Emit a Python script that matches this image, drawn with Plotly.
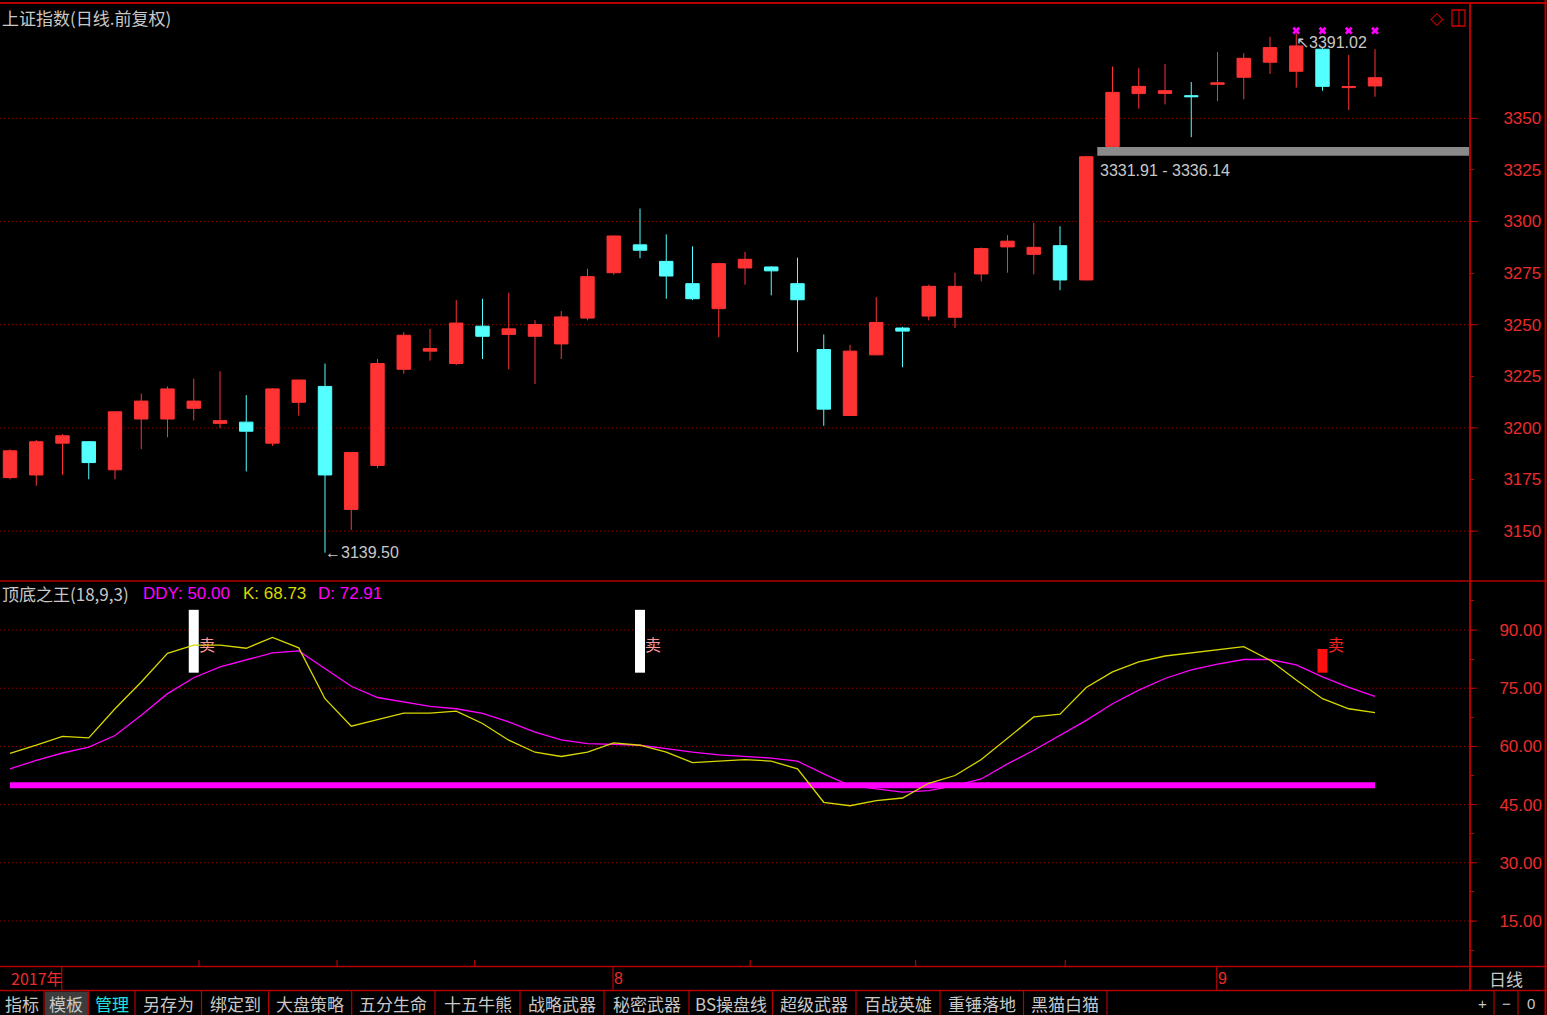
import plotly.graph_objects as go

# ---------------- data ----------------
N = 53
idx = list(range(N))
opens = [3175.9, 3177.2, 3192.6, 3193.3, 3179.7, 3204.3, 3204.3, 3209.5, 3202.2, 3202.8,
         3192.6, 3212.4, 3220.1, 3160.5, 3181.8, 3228.4, 3237.2, 3231.2, 3249.3, 3245.3,
         3244.4, 3240.7, 3253.2, 3275.2, 3288.7, 3280.7, 3269.9, 3257.8, 3277.5, 3278.0,
         3269.9, 3238.0, 3206.0, 3235.4, 3248.4, 3254.2, 3253.6, 3274.6, 3287.7, 3284.1,
         3288.3, 3271.7, 3336.4, 3362.0, 3362.1, 3361.0, 3366.5, 3369.9, 3377.2, 3372.8,
         3383.5, 3364.9, 3365.7]
highs = [3189.7, 3194.2, 3197.0, 3193.6, 3208.0, 3216.6, 3220.1, 3223.9, 3227.4, 3215.9,
         3219.3, 3223.4, 3231.2, 3188.3, 3233.4, 3246.4, 3248.0, 3261.9, 3262.6, 3265.5,
         3252.2, 3256.6, 3277.2, 3293.2, 3306.3, 3293.8, 3288.0, 3280.1, 3285.3, 3278.3,
         3282.5, 3245.3, 3240.3, 3263.4, 3248.9, 3269.4, 3275.2, 3287.4, 3293.4, 3299.4,
         3297.7, 3331.91, 3375.1, 3374.3, 3376.4, 3367.6, 3382.2, 3381.6, 3389.5, 3391.02,
         3384.0, 3380.7, 3383.5]
lows = [3175.1, 3172.0, 3177.2, 3175.1, 3175.1, 3189.7, 3195.5, 3203.6, 3199.9, 3178.9,
        3191.3, 3205.9, 3139.50, 3150.5, 3180.5, 3226.3, 3232.6, 3230.5, 3233.4, 3228.4,
        3221.3, 3233.4, 3252.1, 3274.2, 3282.2, 3262.6, 3261.9, 3244.0, 3269.4, 3264.2,
        3236.7, 3201.0, 3205.8, 3235.2, 3229.4, 3252.1, 3248.5, 3271.0, 3275.2, 3274.4,
        3266.7, 3271.5, 3336.14, 3354.7, 3356.8, 3340.9, 3358.4, 3359.2, 3371.5, 3364.9,
        3363.4, 3354.0, 3360.5]
closes = [3188.9, 3193.3, 3196.2, 3183.2, 3207.8, 3213.0, 3218.9, 3213.0, 3203.5, 3198.4,
          3218.9, 3223.2, 3177.2, 3188.1, 3231.2, 3244.9, 3238.5, 3250.8, 3244.4, 3248.0,
          3250.1, 3253.8, 3273.3, 3293.0, 3286.1, 3273.6, 3262.6, 3279.6, 3281.7, 3276.1,
          3262.1, 3209.1, 3237.2, 3251.1, 3246.9, 3268.6, 3268.6, 3286.9, 3290.5, 3287.5,
          3271.7, 3331.4, 3362.6, 3365.5, 3363.4, 3360.5, 3367.2, 3379.1, 3384.3, 3385.1,
          3365.5, 3365.4, 3369.7]

K = [58.2, 60.3, 62.6, 62.2, 69.7, 76.6, 84.0, 86.1, 86.1, 85.3,
     88.1, 85.4, 72.3, 65.2, 66.9, 68.6, 68.6, 69.1, 65.9, 61.6,
     58.5, 57.4, 58.5, 60.9, 60.3, 58.5, 55.8, 56.2, 56.6, 56.2,
     54.2, 45.6, 44.7, 46.0, 46.7, 50.5, 52.5, 56.6, 62.0, 67.6,
     68.3, 75.2, 79.2, 81.8, 83.3, 84.1, 84.8, 85.7, 82.2, 77.1,
     72.3, 69.7, 68.73]
D = [54.2, 56.4, 58.3, 59.8, 62.8, 68.0, 73.6, 77.7, 80.5, 82.2,
     84.1, 84.6, 80.1, 75.5, 72.6, 71.5, 70.3, 69.7, 68.5, 66.3,
     63.7, 61.7, 60.7, 60.5, 60.3, 59.4, 58.5, 57.8, 57.4, 57.0,
     56.2, 52.9, 49.9, 49.1, 48.2, 48.6, 49.9, 51.6, 55.5, 59.0,
     62.8, 66.7, 71.0, 74.5, 77.5, 79.7, 81.2, 82.4, 82.4, 81.0,
     77.9, 75.2, 72.91]
DDY = [50.00] * N

sell_white = [7, 24]
sell_red = [50]
sell_low = 79.0
sell_high_white = 95.2
sell_high_red = 85.1

gap_low, gap_high = 3331.91, 3336.14
gap_start = 41
min_idx = 12
max_idx = 49
top_marks = [49, 50, 51, 52]
top_mark_level = 3392.5

price_ticks = [3150, 3175, 3200, 3225, 3250, 3275, 3300, 3325, 3350]
price_grid = [3150, 3200, 3250, 3300, 3350]
ind_ticks = [15, 30, 45, 60, 75, 90]
month_idx = [2, 23, 46]
month_labels = ["8", "9"]
week_ticks = [7.2, 12.46, 17.7, 28.2, 34.5, 40.2]

buttons = ["指标", "模板", "管理", "另存为", "绑定到", "大盘策略", "五分生命", "十五牛熊",
           "战略武器", "秘密武器", "BS操盘线", "超级武器", "百战英雄", "重锤落地", "黑猫白猫"]

# ---------------- style ----------------
W, H = 1547, 1015
RED = "#ff3333"
CYAN = "#54ffff"
LINE = "#b40000"
GRID = "#9a0000"
LBL = "#e82c2c"
GRAY = "#c8c8c8"
MAG = "#ff00ff"
YEL = "#d8d800"
CJK = "Noto Sans CJK SC"
LAT = "Liberation Sans"

def px(x):
    return x / W

def py(y):
    return 1 - y / H

X_RIGHT = 1470
xr0 = -10 / 26.25
xr1 = xr0 + X_RIGHT / 26.25

fig = go.Figure()

fig.add_trace(go.Candlestick(
    x=idx, open=opens, high=highs, low=lows, close=closes,
    increasing=dict(line=dict(color=RED, width=1), fillcolor=RED),
    decreasing=dict(line=dict(color=CYAN, width=1), fillcolor=CYAN),
    whiskerwidth=0, xaxis="x", yaxis="y", hoverinfo="skip", showlegend=False))

fig.add_trace(go.Scatter(x=top_marks, y=[top_mark_level] * len(top_marks), mode="markers",
                         marker=dict(symbol="x", size=7, color=MAG, line=dict(width=0)),
                         xaxis="x", yaxis="y", showlegend=False, hoverinfo="skip"))

# lower panel
fig.add_trace(go.Scatter(x=idx, y=DDY, mode="lines", line=dict(color=MAG, width=6),
                         xaxis="x", yaxis="y2", showlegend=False, hoverinfo="skip"))
fig.add_trace(go.Scatter(x=idx, y=D, mode="lines", line=dict(color=MAG, width=1.3),
                         xaxis="x", yaxis="y2", showlegend=False, hoverinfo="skip"))
fig.add_trace(go.Scatter(x=idx, y=K, mode="lines", line=dict(color=YEL, width=1.3),
                         xaxis="x", yaxis="y2", showlegend=False, hoverinfo="skip"))
fig.add_trace(go.Bar(x=sell_white, y=[sell_high_white - sell_low] * len(sell_white), base=sell_low,
                     width=0.38, marker=dict(color="#ffffff", line=dict(width=0)),
                     xaxis="x", yaxis="y2", showlegend=False, hoverinfo="skip"))
fig.add_trace(go.Bar(x=sell_red, y=[sell_high_red - sell_low] * len(sell_red), base=sell_low,
                     width=0.38, marker=dict(color="#ff1010", line=dict(width=0)),
                     xaxis="x", yaxis="y2", showlegend=False, hoverinfo="skip"))

shapes = []
ann = []

# gap band
shapes.append(dict(type="rect", xref="x", yref="y", x0=gap_start + 0.42, x1=xr1,
                   y0=gap_low, y1=gap_high, fillcolor="#8a8a8a", line=dict(width=0), layer="below"))
# price grid & long ticks
for v in price_grid:
    shapes.append(dict(type="line", xref="paper", yref="y", x0=0, x1=px(X_RIGHT), y0=v, y1=v,
                       line=dict(color=GRID, width=1, dash="1px,3px"), layer="below"))
    shapes.append(dict(type="line", xref="paper", yref="y", x0=px(X_RIGHT), x1=px(X_RIGHT + 8), y0=v, y1=v,
                       line=dict(color=LINE, width=1)))
for v in ind_ticks:
    shapes.append(dict(type="line", xref="paper", yref="y2", x0=0, x1=px(X_RIGHT), y0=v, y1=v,
                       line=dict(color=GRID, width=1, dash="1px,3px"), layer="below"))
    shapes.append(dict(type="line", xref="paper", yref="y2", x0=px(X_RIGHT), x1=px(X_RIGHT + 7), y0=v, y1=v,
                       line=dict(color=LINE, width=1)))

# frame lines
def hline(y, x0=0, x1=W, w=1.5):
    shapes.append(dict(type="line", xref="paper", yref="paper", x0=px(x0), x1=px(x1), y0=py(y), y1=py(y),
                       line=dict(color=LINE, width=w)))

def vline(x, y0, y1, w=1.5):
    shapes.append(dict(type="line", xref="paper", yref="paper", x0=px(x), x1=px(x), y0=py(y0), y1=py(y1),
                       line=dict(color=LINE, width=w)))

hline(3, w=2)
hline(581, w=1.5)
hline(966.5, w=1.5)
hline(990.5, w=1.5)
vline(X_RIGHT, 3, 990, w=2)
vline(1545.5, 0, 1015, w=2)

# date bar: month lines & week ticks
for m in month_idx:
    shapes.append(dict(type="line", xref="x", yref="paper", x0=m - 0.03, x1=m - 0.03, y0=py(966), y1=py(990),
                       line=dict(color=LINE, width=1.2)))
for t in week_ticks:
    shapes.append(dict(type="line", xref="x", yref="paper", x0=t, x1=t, y0=py(960), y1=py(967),
                       line=dict(color=LINE, width=1.2)))

# toolbar
edges = [0, 44, 88.5, 135, 201.5, 268.6, 351.7, 435, 520, 604, 689, 772.5, 856, 940, 1023.5, 1107]
shapes.append(dict(type="rect", xref="paper", yref="paper", x0=px(45), x1=px(88), y0=py(1015), y1=py(991.5),
                   fillcolor="#3c3c3c", line=dict(width=0), layer="below"))
for e in edges[1:]:
    vline(e, 990, 1015, w=1.2)
for e in [1494, 1518]:
    vline(e, 990, 1015, w=1.2)
for i, b in enumerate(buttons):
    cx = (edges[i] + edges[i + 1]) / 2
    col = "#22e0e0" if b == "管理" else GRAY
    ann.append(dict(x=px(cx), y=py(1003), xref="paper", yref="paper", text=b, showarrow=False,
                    xanchor="center", yanchor="middle", font=dict(family=CJK, size=17, color=col)))
for cx, t in [(1482, "+"), (1506, "−"), (1531, "0")]:
    ann.append(dict(x=px(cx), y=py(1003), xref="paper", yref="paper", text=t, showarrow=False,
                    xanchor="center", yanchor="middle", font=dict(family=LAT, size=15, color=GRAY)))
ann.append(dict(x=px(1506), y=py(978), xref="paper", yref="paper", text="日线", showarrow=False,
                xanchor="center", yanchor="middle", font=dict(family=CJK, size=17, color=GRAY)))

# date labels
ann.append(dict(x=0, y=py(978), xref="x", yref="paper", text="2017年", showarrow=False, xshift=-1,
                xanchor="left", yanchor="middle", font=dict(family=CJK, size=16, color=LBL)))
for m, lab in zip(month_idx[1:], month_labels):
    ann.append(dict(x=m, y=py(978), xref="x", yref="paper", text=lab, showarrow=False, xshift=-2,
                    xanchor="left", yanchor="middle", font=dict(family=LAT, size=16, color=LBL)))

# titles
ann.append(dict(x=0, y=py(18), xref="paper", yref="paper", text="上证指数(日线.前复权)", showarrow=False,
                xanchor="left", yanchor="middle", font=dict(family=CJK, size=17, color=GRAY)))
ann.append(dict(x=0, y=py(593), xref="paper", yref="paper", text="顶底之王(18,9,3)", showarrow=False,
                xanchor="left", yanchor="middle", font=dict(family=CJK, size=17, color=GRAY)))
ann.append(dict(x=px(141), y=py(593), xref="paper", yref="paper", text=f"DDY: {DDY[-1]:.2f}", showarrow=False,
                xanchor="left", yanchor="middle", font=dict(family=LAT, size=17, color=MAG)))
ann.append(dict(x=px(241), y=py(593), xref="paper", yref="paper", text=f"K: {K[-1]:.2f}", showarrow=False,
                xanchor="left", yanchor="middle", font=dict(family=LAT, size=17, color=YEL)))
ann.append(dict(x=px(316), y=py(593), xref="paper", yref="paper", text=f"D: {D[-1]:.2f}", showarrow=False,
                xanchor="left", yanchor="middle", font=dict(family=LAT, size=17, color=MAG)))

# top-right icons
ann.append(dict(x=px(1437), y=py(18), xref="paper", yref="paper", text="◇", showarrow=False,
                xanchor="center", yanchor="middle", font=dict(family="DejaVu Sans", size=17, color="#d00000")))
shapes.append(dict(type="rect", xref="paper", yref="paper", x0=px(1452), x1=px(1465), y0=py(26), y1=py(10),
                   line=dict(color="#d00000", width=1.3)))
vline(1459, 10, 26, w=1.3)

# price annotations
ann.append(dict(x=min_idx, y=lows[min_idx], xref="x", yref="y", text=f"←{lows[min_idx]:.2f}", showarrow=False,
                xanchor="left", yanchor="middle", xshift=-2, font=dict(family=LAT, size=16, color=GRAY)))
ann.append(dict(x=max_idx, y=highs[max_idx], xref="x", yref="y", text=f"↖{highs[max_idx]:.2f}", showarrow=False,
                xanchor="left", yanchor="top", xshift=-2, yshift=2, font=dict(family=LAT, size=16, color=GRAY)))
ann.append(dict(x=gap_start + 0.42, y=gap_low, xref="x", yref="y", text=f"{gap_low:.2f} - {gap_high:.2f}",
                showarrow=False, xanchor="left", yanchor="top", xshift=1, yshift=-4,
                font=dict(family=LAT, size=16, color=GRAY)))

# sell labels
for s in sell_white:
    ann.append(dict(x=s + 0.5, y=86.4, xref="x", yref="y2", text="卖", showarrow=False,
                    xanchor="center", yanchor="middle", font=dict(family=CJK, size=16, color="#ff9a9a")))
for s in sell_red:
    ann.append(dict(x=s + 0.5, y=86.4, xref="x", yref="y2", text="卖", showarrow=False,
                    xanchor="center", yanchor="middle", font=dict(family=CJK, size=16, color="#ff2020")))

fig.update_layout(
    width=W, height=H,
    margin=dict(l=0, r=0, t=0, b=0),
    paper_bgcolor="#000000", plot_bgcolor="#000000",
    showlegend=False, barmode="overlay", boxgap=0.27,
    xaxis=dict(domain=[0, px(X_RIGHT)], range=[xr0, xr1], visible=False, rangeslider=dict(visible=False),
               fixedrange=True),
    yaxis=dict(domain=[py(580), py(3)], range=[3126.3, 3405.9], side="right", anchor="x",
               tickvals=price_ticks, ticktext=[str(v) for v in price_ticks],
               ticks="outside", ticklen=3, tickcolor=LINE, showgrid=False, zeroline=False, showline=False,
               tickfont=dict(family=LAT, size=17, color=LBL), ticklabelstandoff=26, fixedrange=True),
    yaxis2=dict(domain=[py(966), py(582)], range=[90 - (966 - 630) / 3.88, 90 + 48 / 3.88], side="right",
                anchor="x", tickvals=ind_ticks, ticktext=[f"{v:.2f}" for v in ind_ticks],
                ticks="outside", ticklen=3, tickcolor=LINE,
                minor=dict(dtick=7.5, ticks="outside", ticklen=3, tickcolor=LINE, showgrid=False),
                showgrid=False, zeroline=False, showline=False,
                tickfont=dict(family=LAT, size=17, color=LBL), ticklabelstandoff=22, fixedrange=True),
    shapes=shapes, annotations=ann,
)

fig.write_html("out.html", config=dict(displayModeBar=False, staticPlot=True),
               post_script="document.body.style.margin='0';document.body.style.overflow='hidden';")
